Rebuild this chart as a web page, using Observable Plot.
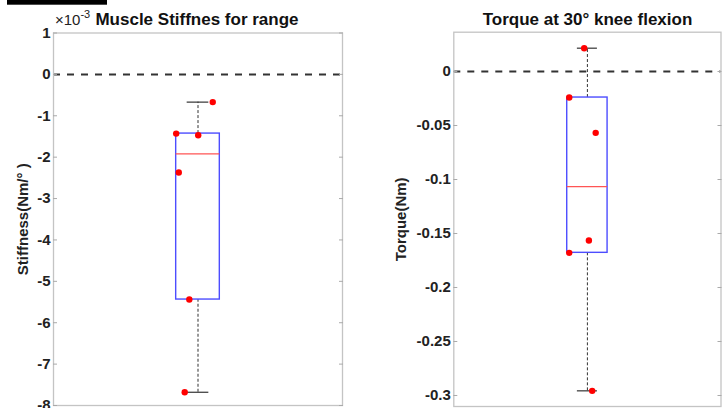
<!DOCTYPE html>
<html><head><meta charset="utf-8">
<script src="https://cdn.jsdelivr.net/npm/d3@7"></script>
<script src="https://cdn.jsdelivr.net/npm/@observablehq/plot@0.6"></script>
<style>
body{margin:0;background:#fff;}
#wrap{position:relative;width:725px;height:408px;overflow:hidden;font-family:"Liberation Sans",Arial,Helvetica,sans-serif;}
#wrap svg{position:absolute;top:0;}
</style></head><body><div id="wrap"></div>
<script>
// ---- data ----
const titles = ["Muscle Stiffnes for range", "Torque at 30° knee flexion"];
const yLabels = ["Stiffness(Nm/° )", "Torque(Nm)"];
const stiffness = [-0.00067, -0.00143, -0.00147, -0.00237, -0.00544, -0.00768];
const stiffnessJitter = [0.051, -0.0755, 0.0007, -0.0665, -0.030, -0.046];
const torque = [0.0216, -0.0241, -0.0568, -0.1565, -0.1679, -0.2957];
const torqueJitter = [-0.012, -0.068, 0.031, 0.0056, -0.068, 0.018];
const stiffnessTicks = [0.001, 0, -0.001, -0.002, -0.003, -0.004, -0.005, -0.006, -0.007, -0.008];
const torqueTicks = [0, -0.05, -0.1, -0.15, -0.2, -0.25, -0.3];

// ---- helpers ----
const BOX = 0.0755, CAP = 0.0375;
function mq(s, p) { // MATLAB-style quantile on sorted ascending array
  const n = s.length, pos = n * p + 0.5;
  if (pos <= 1) return s[0];
  if (pos >= n) return s[n - 1];
  const lo = Math.floor(pos), f = pos - lo;
  return s[lo - 1] + f * (s[lo] - s[lo - 1]);
}
function boxPlot({values, jitter, ticks, yDomain, width, margins, tickFormat, label, labelDx}) {
  const s = values.slice().sort(d3.ascending);
  const q1 = mq(s, .25), med = mq(s, .5), q3 = mq(s, .75), iqr = q3 - q1;
  const hi = d3.max(s.filter(v => v <= q3 + 1.5 * iqr));
  const lo = d3.min(s.filter(v => v >= q1 - 1.5 * iqr));
  const st = [{q1, med, q3, hi, lo}];
  const pts = values.map((v, i) => ({x: 1 + jitter[i], y: v}));
  const dark = "#333";
  return Plot.plot({
    width, height: 408, ...margins,
    x: {domain: [0.5, 1.5], axis: null},
    y: {domain: yDomain, axis: null},
    style: {fontFamily: '"Liberation Sans",Arial,Helvetica,sans-serif', color: "#222", background: "transparent"},
    marks: [
      Plot.ruleY([0], {stroke: dark, strokeWidth: 2, strokeDasharray: "7,7"}),
      Plot.ruleX(st, {x: () => 1, y1: "q3", y2: "hi", stroke: dark, strokeDasharray: "3,2"}),
      Plot.ruleX(st, {x: () => 1, y1: "lo", y2: "q1", stroke: dark, strokeDasharray: "3,2"}),
      Plot.ruleY(st, {y: "hi", x1: () => 1 - CAP, x2: () => 1 + CAP, stroke: dark, strokeWidth: 1.2}),
      Plot.ruleY(st, {y: "lo", x1: () => 1 - CAP, x2: () => 1 + CAP, stroke: dark, strokeWidth: 1.2}),
      Plot.rect(st, {x1: () => 1 - BOX, x2: () => 1 + BOX, y1: "q1", y2: "q3", fill: "none", stroke: "#4d4dff", strokeWidth: 1.4}),
      Plot.ruleY(st, {y: "med", x1: () => 1 - BOX, x2: () => 1 + BOX, stroke: "#ff5555", strokeWidth: 1.2}),
      Plot.dot(pts, {x: "x", y: "y", r: 3.2, fill: "#ff0000", stroke: "none"}),
      Plot.frame({stroke: "#c4c4c4", strokeWidth: 1.3}),
      Plot.axisY(ticks, {anchor: "left", tickSize: -4, tickPadding: 7, tickFormat, fontWeight: "bold", fontSize: 15, stroke: "#aaa", label: null}),
      Plot.axisY(ticks, {anchor: "right", tickSize: -4, tickFormat: () => "", stroke: "#aaa", label: null}),
      Plot.text([label], {frameAnchor: "left", rotate: -90, dx: labelDx, textAnchor: "middle", lineAnchor: "top", fontWeight: "bold", fontSize: 15, fill: "#222"})
    ]
  });
}

const wrap = document.getElementById("wrap");
const left = boxPlot({
  values: stiffness, jitter: stiffnessJitter, ticks: stiffnessTicks,
  yDomain: [-0.008, 0.001], width: 362,
  margins: {marginLeft: 53, marginRight: 20, marginTop: 32.5, marginBottom: 3},
  tickFormat: d => String(Math.round(d * 1000)),
  label: yLabels[0], labelDx: -36
});
left.style.left = "0px";
wrap.appendChild(left);

const right = boxPlot({
  values: torque, jitter: torqueJitter, ticks: torqueTicks,
  yDomain: [-0.3102, 0.0364], width: 363,
  margins: {marginLeft: 91.3, marginRight: 4.5, marginTop: 31.7, marginBottom: 2},
  tickFormat: d => d === 0 ? "0" : String(+d.toFixed(2)),
  label: yLabels[1], labelDx: -58
});
right.style.left = "362px";
wrap.appendChild(right);

// overlay titles
const ov = d3.select(wrap).append("svg").attr("width", 725).attr("height", 408).style("left", "0px")
  .style("font-family", '"Liberation Sans",Arial,Helvetica,sans-serif').style("pointer-events", "none");
ov.append("rect").attr("x", 7).attr("y", 0).attr("width", 100).attr("height", 4.7).attr("fill", "#000");
ov.append("text").attr("x", 197).attr("y", 25).attr("text-anchor", "middle").attr("font-weight", "bold")
  .attr("font-size", 17).attr("fill", "#111").text(titles[0]);
ov.append("text").attr("x", 587.5).attr("y", 25).attr("text-anchor", "middle").attr("font-weight", "bold")
  .attr("font-size", 17).attr("fill", "#111").text(titles[1]);
const ex = ov.append("text").attr("x", 55).attr("y", 25).attr("font-size", 15).attr("fill", "#222");
ex.append("tspan").text("×10");
ex.append("tspan").attr("dy", -7).attr("font-size", 11).text("-3");
</script></body></html>
